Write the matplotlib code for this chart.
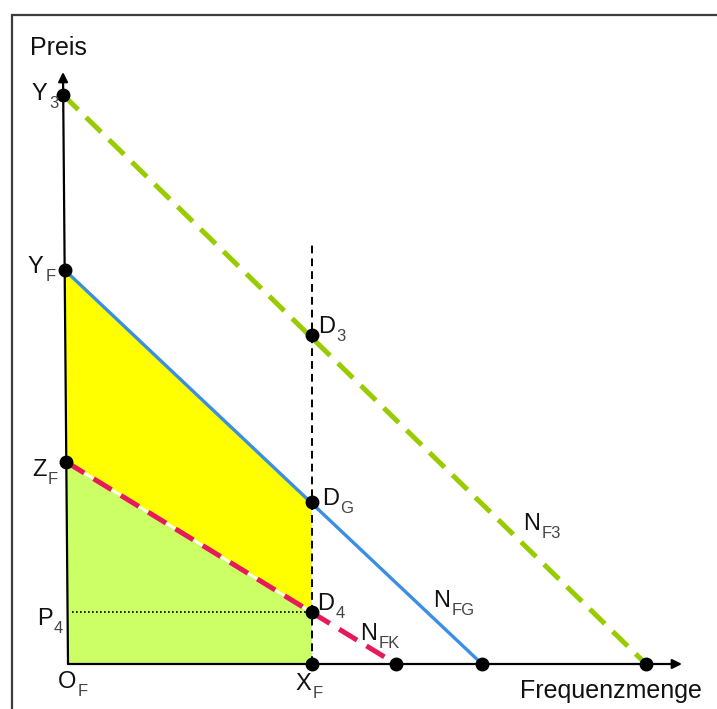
import matplotlib
matplotlib.use("Agg")
import matplotlib.pyplot as plt
import matplotlib.patches as mpatches
import numpy as np

plt.rcParams["font.family"] = ["Liberation Sans", "DejaVu Sans"]

# Achsenabschnitte der Nachfragekurven (Preis-Achse / Mengen-Achse)
y3, yF, zF = 56.9, 39.4, 20.2
x_nf3, x_nfg, x_nfk = 57.8, 41.4, 32.8
xF = 24.4
vline_top = 42.2
axis_x_end, axis_y_end = 61.4, 59.2
axis_top_x = -0.5  # Preisachse leicht schraeg

# Schnittpunkte bei X_F
d3 = np.interp(xF, [0, x_nf3], [y3, 0])
dG = np.interp(xF, [0, x_nfg], [yF, 0])
d4 = np.interp(xF, [0, x_nfk], [zF, 0])
p4 = d4


def on_y_axis(y):
    return np.interp(y, [0, axis_y_end], [0, axis_top_x])


fig = plt.figure(figsize=(7.17, 7.09), dpi=100)
ax = fig.add_axes([0, 0, 1, 1])
ax.set_xlim(-6.8, 64.9)
ax.set_ylim(-4.5, 66.4)
ax.axis("off")

# Rahmen (nur links und oben sichtbar)
fig.patches.append(
    mpatches.Rectangle(
        (12 / 717, -0.1), 1.2, 1.1 - 15 / 709,
        transform=fig.transFigure, fill=False, lw=1.6, ec="#3c3c3c",
    )
)

# Flaechen
ax.fill(
    [on_y_axis(yF), xF, xF, on_y_axis(zF)],
    [yF, dG, d4, zF],
    color="#FFFF00", lw=0, zorder=1,
)
ax.fill(
    [on_y_axis(zF), xF, xF, 0],
    [zF, d4, 0, 0],
    color="#CCFF66", lw=0, zorder=1,
)

# Nachfragekurven
ax.plot([on_y_axis(zF), x_nfk], [zF, 0], color="white", lw=2.0, zorder=2)
ax.plot([on_y_axis(zF), x_nfk], [zF, 0], color="#E8195A", lw=3.6,
        dashes=(4.2, 2.2), dash_capstyle="butt", zorder=3)
ax.plot([on_y_axis(yF), x_nfg], [yF, 0], color="#3A8EE6", lw=2.4, zorder=3)
ax.plot([on_y_axis(y3), x_nf3], [y3, 0], color="#99CC00", lw=3.6,
        dashes=(4.2, 2.2), dash_capstyle="butt", zorder=3)

# Senkrechte bei X_F und P4-Linie
ax.plot([xF, xF], [0, vline_top], color="black", lw=1.4,
        dashes=(4, 2.6), zorder=4)
ax.plot([on_y_axis(p4) + 0.4, xF], [p4, p4], color="black", lw=1.2,
        dashes=(1, 1.4), zorder=4)

# Achsen
arrow = dict(arrowstyle="-|>", lw=1.6, color="black",
             mutation_scale=14, shrinkA=0, shrinkB=0)
ax.annotate("", xy=(axis_x_end, 0), xytext=(0, 0), arrowprops=arrow, zorder=5)
ax.annotate("", xy=(axis_top_x, axis_y_end), xytext=(0, 0), arrowprops=arrow, zorder=5)

# Punkte
pts_x = [on_y_axis(y3), on_y_axis(yF), on_y_axis(zF), xF, xF, xF, xF, x_nfk, x_nfg, x_nf3]
pts_y = [y3, yF, zF, d3, dG, d4, 0, 0, 0, 0]
ax.plot(pts_x, pts_y, "o", color="black", ms=9, zorder=6)

# Achsentitel
ax.text(-3.8, 60.9, "Preis", ha="left", va="baseline", fontsize=18, color="#111111")
ax.text(45.2, -3.4, "Frequenzmenge", ha="left", va="baseline", fontsize=18, color="#111111")

# Punktbeschriftungen mit Index
labels = [
    (-3.6, 56.4, "Y", "3"),
    (-4.0, 39.1, "Y", "F"),
    (-3.6, 18.8, "Z", "F"),
    (-3.1, 3.9, "P", "4"),
    (-1.0, -2.4, "O", "F"),
    (22.7, -2.6, "X", "F"),
    (25.0, 33.1, "D", "3"),
    (25.4, 15.9, "D", "G"),
    (24.9, 5.4, "D", "4"),
    (29.2, 2.4, "N", "FK"),
    (36.5, 5.7, "N", "FG"),
    (45.5, 13.4, "N", "F3"),
]
for x, y, main, sub in labels:
    t = ax.text(x, y, main, ha="left", va="baseline", fontsize=17,
                color="#111111", zorder=7)
    ax.annotate(sub, xy=(1, 0), xycoords=t, xytext=(1.0, -2.2),
                textcoords="offset points", ha="left", va="baseline",
                fontsize=12, color="#444444", zorder=7)

fig.savefig("out.png", dpi=100)
plt.close("all")
